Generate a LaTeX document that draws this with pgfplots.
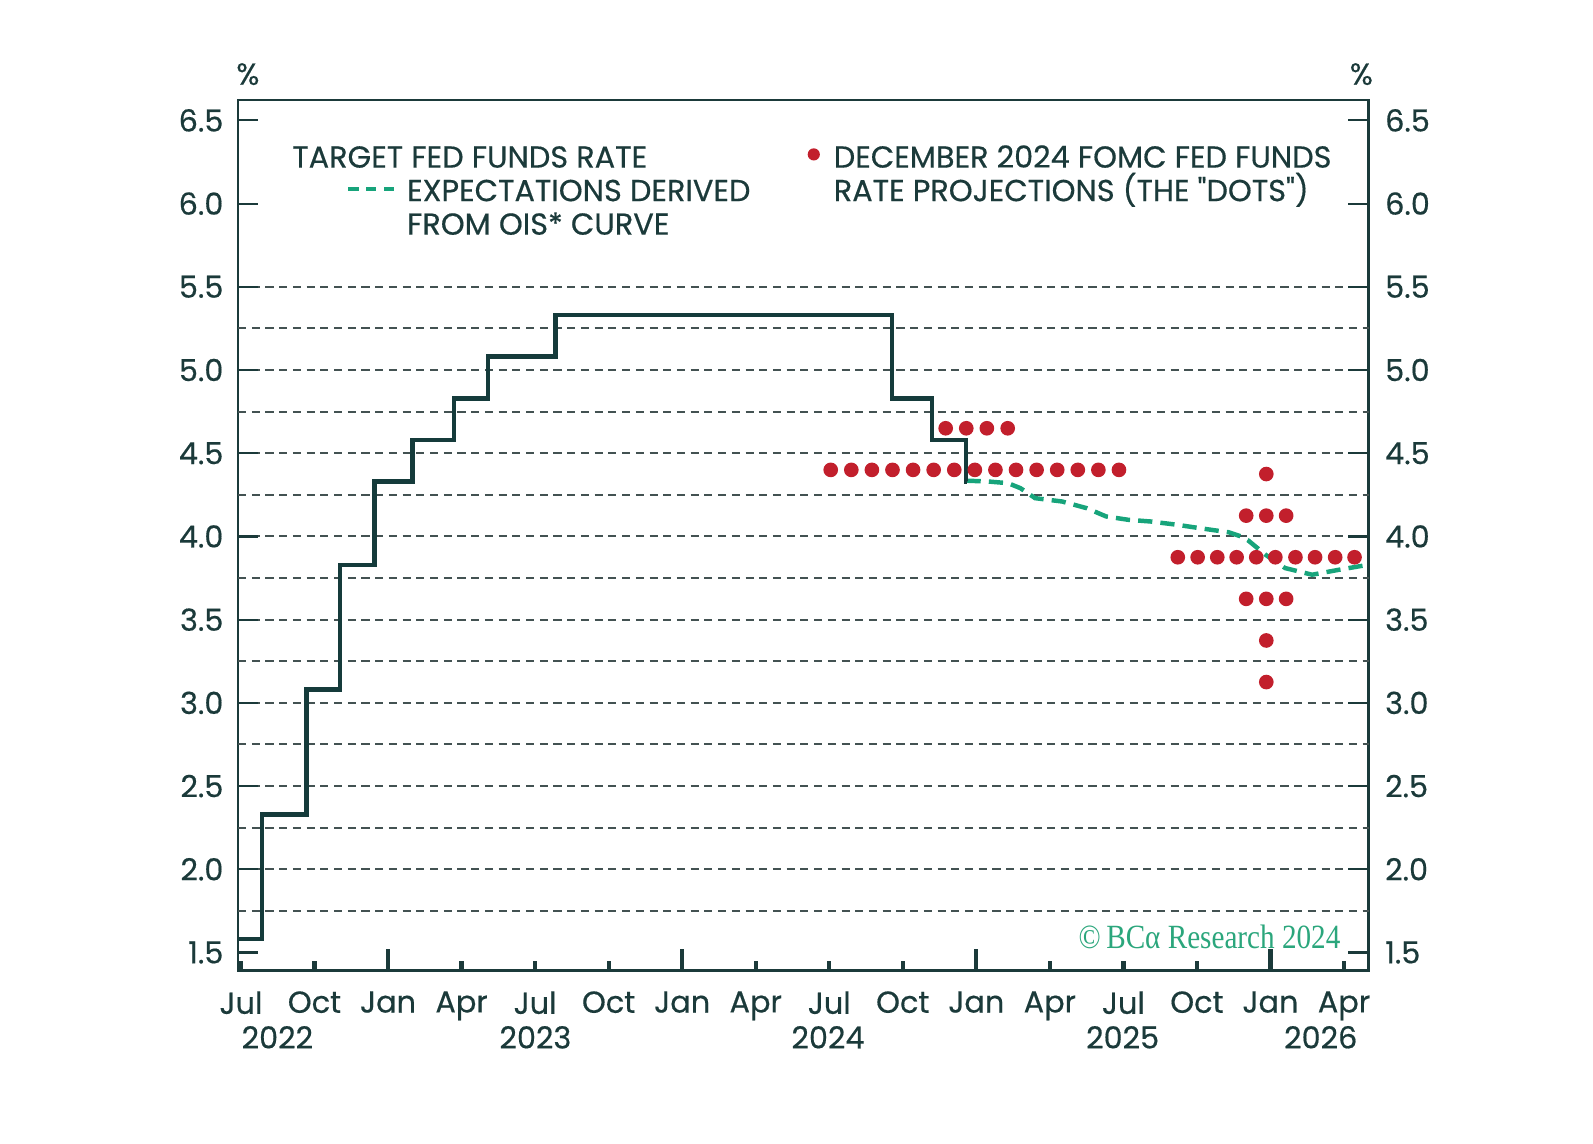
\documentclass[border=0pt]{standalone}
\usepackage{fontspec}
\setmainfont{Poppins}[FakeBold=0.45]
\newfontfamily\crfont{Liberation Serif}[FakeStretch=0.86]
\usepackage{pgfplots}
\pgfplotsset{compat=1.18}

\definecolor{axc}{HTML}{1B3A3A}
\definecolor{linec}{HTML}{153B3B}
\definecolor{gridc}{HTML}{435252}
\definecolor{dotc}{HTML}{C21F2C}
\definecolor{oisc}{HTML}{17A47B}
\definecolor{crc}{HTML}{2BA67C}

\newcommand\tickfont{\fontsize{8.5}{10}\selectfont}
\newcommand\legfont{\fontsize{8.5}{9.4}\selectfont}
% straight double quote, bypassing the TeX ligature mapping
\newcommand\sq{\XeTeXglyph\XeTeXcharglyph"0022\relax}

% x = months since 1 Jul 2022
\pgfplotsset{
  frame/.style={
    at={(23.43mm,17.06mm)}, anchor=south west,
    scale only axis, width=111.27mm, height=85.70mm,
    xmin=-0.12, xmax=46, ymin=1.391, ymax=6.623,
  },
  yside/.style={
    frame, hide x axis,
    axis line style={draw=none},
    tick align=inside,
    ytick={1.5,2,...,6.5},
    major tick length=2mm,
    ytick style={color=axc, line width=0.6pt},
    y tick label style={font=\tickfont, text=axc},
    /pgf/number format/fixed,
    /pgf/number format/fixed zerofill,
    /pgf/number format/precision=1,
    /pgf/number format/assume math mode=true,
  },
}

\begin{document}
\begin{tikzpicture}
\useasboundingbox (0,0) rectangle (156.8mm,112.6mm);

\begin{axis}[
  frame,
  axis line style={color=axc, line width=0.8pt},
  tick align=inside,
  xtick={0,3,...,45},
  xticklabels={Jul,Oct,Jan,Apr,Jul,Oct,Jan,Apr,Jul,Oct,Jan,Apr,Jul,Oct,Jan,Apr},
  xtick pos=bottom,
  major tick length=0.9mm,
  xtick style={color=axc, line width=1.2pt},
  extra x ticks={6,18,30,42},
  extra x tick labels={},
  extra x tick style={major tick length=2.1mm},
  x tick label style={font=\tickfont, text=axc, yshift=-0.8mm},
  ytick=\empty,
  extra y ticks={1.75,2,...,5.5},
  extra y tick labels={},
  extra y tick style={grid=major, major tick length=0pt},
  major grid style={color=gridc, line width=0.55pt, dash pattern=on 0.8mm off 0.55mm},
]
% December 2024 SEP dots, 2024 year end
\addplot[only marks, mark=*, mark size=1.85pt, color=dotc] table {
x y
24.06 4.40
24.90 4.40
25.74 4.40
26.58 4.40
27.42 4.40
28.26 4.40
29.10 4.40
29.94 4.40
30.78 4.40
31.62 4.40
32.46 4.40
33.30 4.40
34.14 4.40
34.98 4.40
35.82 4.40
28.75 4.65
29.59 4.65
30.43 4.65
31.28 4.65
};
% 2025 year end
\addplot[only marks, mark=*, mark size=1.85pt, color=dotc] table {
x y
41.83 4.375
41.01 4.125
41.83 4.125
42.64 4.125
38.22 3.875
39.03 3.875
39.83 3.875
40.62 3.875
41.42 3.875
42.20 3.875
43.02 3.875
43.82 3.875
44.64 3.875
45.43 3.875
41.01 3.625
41.83 3.625
42.64 3.625
41.83 3.375
41.83 3.125
};
% OIS-implied path
\addplot[color=oisc, line width=1.25pt, dash pattern=on 1.4mm off 0.8mm] table {
x y
29.60 4.335
30.50 4.330
31.30 4.320
31.80 4.290
32.40 4.230
33.50 4.210
34.50 4.170
35.30 4.120
36.20 4.100
37.10 4.090
38.20 4.070
39.10 4.050
40.30 4.025
40.80 4.000
41.10 3.975
41.80 3.890
42.60 3.810
43.70 3.770
44.80 3.800
46.00 3.830
};
% effective fed funds rate
\addplot[const plot, color=linec, line width=1.25pt] table {
x y
-0.12 1.58
0.85 2.33
2.67 3.08
4.03 3.83
5.45 4.33
7.00 4.58
8.70 4.83
10.07 5.08
12.83 5.33
26.57 4.83
28.20 4.58
29.57 4.33
29.60 4.33
};
\end{axis}

\begin{axis}[yside, axis y line*=left, y tick label style={xshift=-0.2mm}]
\end{axis}
\begin{axis}[yside, axis y line*=right, y tick label style={xshift=0.4mm}]
\end{axis}

% units and years
\node[font=\tickfont, text=axc] at (24.4mm,105.3mm) {\%};
\node[font=\tickfont, text=axc] at (134.0mm,105.3mm) {\%};
\foreach \xx/\yr in {27.3/2022, 52.7/2023, 81.5/2024, 110.5/2025, 130.0/2026}
  \node[font=\tickfont, text=axc, anchor=base, inner sep=0] at (\xx mm,9.4mm) {\yr};

% legend
\node[font=\legfont, text=axc, anchor=base west, inner sep=0] at (28.7mm,96.1mm) {TARGET FED FUNDS RATE};
\draw[oisc, line width=1.2pt, dash pattern=on 1.0mm off 0.75mm] (34.3mm,94.0mm) -- (38.8mm,94.0mm);
\node[font=\legfont, text=axc, anchor=base west, inner sep=0] at (40.0mm,92.8mm) {EXPECTATIONS DERIVED};
\node[font=\legfont, text=axc, anchor=base west, inner sep=0] at (40.0mm,89.5mm) {FROM OIS* CURVE};
\fill[dotc] (80.1mm,97.4mm) circle (0.6mm);
\node[font=\legfont, text=axc, anchor=base west, inner sep=0] at (82.0mm,96.1mm) {DECEMBER 2024 FOMC FED FUNDS};
\node[font=\legfont, text=axc, anchor=base west, inner sep=0] at (82.0mm,92.8mm) {RATE PROJECTIONS (THE \sq DOTS\sq)};

\node[font=\crfont\fontsize{9.5}{10}\selectfont, text=crc, anchor=base east, inner sep=0] at (132.0mm,19.2mm) {©\,BCα Research 2024};
\end{tikzpicture}
\end{document}
